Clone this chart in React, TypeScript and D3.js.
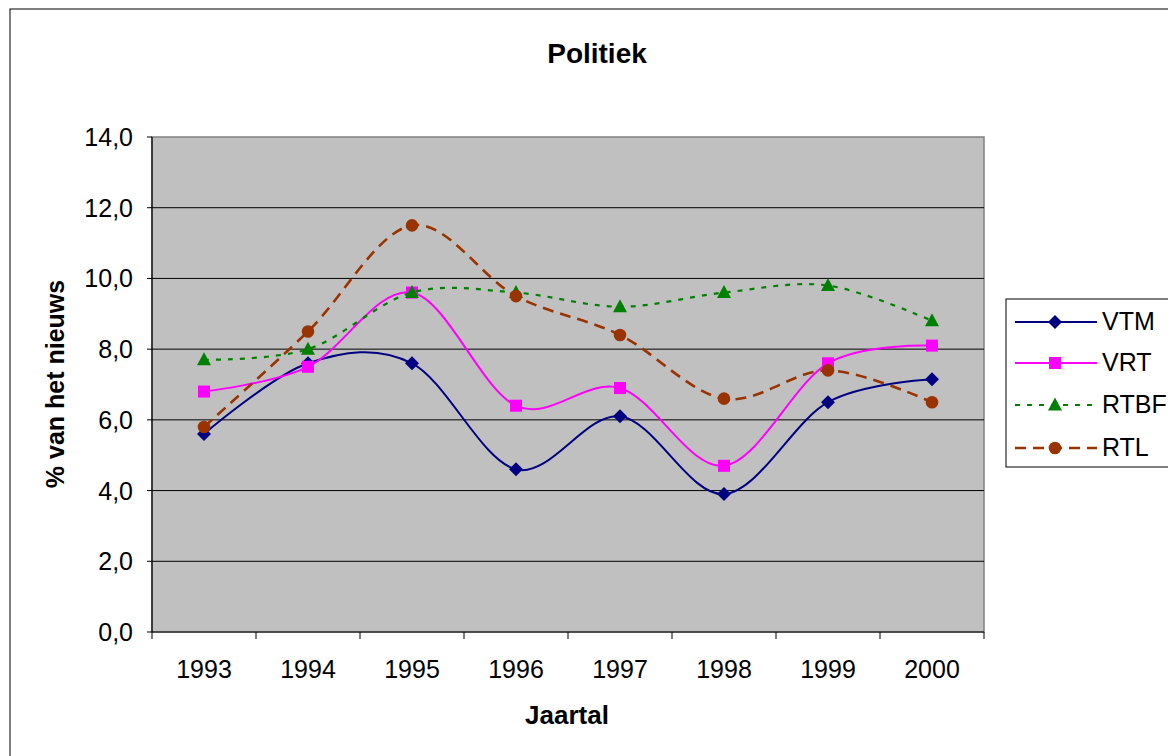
import * as d3 from "d3";

const years = ["1993", "1994", "1995", "1996", "1997", "1998", "1999", "2000"];
const vtm = [5.6, 7.6, 7.6, 4.6, 6.1, 3.9, 6.5, 7.15];
const vrt = [6.8, 7.5, 9.6, 6.4, 6.9, 4.7, 7.6, 8.1];
const rtbf = [7.7, 8.0, 9.6, 9.6, 9.2, 9.6, 9.8, 8.8];
const rtl = [5.8, 8.5, 11.5, 9.5, 8.4, 6.6, 7.4, 6.5];
const yTicks = [0, 2, 4, 6, 8, 10, 12, 14];

const series = [
  { name: "VTM", values: vtm, color: "#000080", dash: "", marker: "diamond", width: 2 },
  { name: "VRT", values: vrt, color: "#FF00FF", dash: "", marker: "square", width: 2 },
  { name: "RTBF", values: rtbf, color: "#008000", dash: "5 7", marker: "triangle", width: 2.2 },
  { name: "RTL", values: rtl, color: "#993300", dash: "11 7", marker: "circle", width: 2.6 },
];

const font = "Arial, 'Liberation Sans', sans-serif";

const Marker = ({ type, x, y, color }) => {
  if (type === "diamond")
    return <path d={`M${x},${y - 7}L${x + 7},${y}L${x},${y + 7}L${x - 7},${y}Z`} fill={color} />;
  if (type === "square")
    return <rect x={x - 6} y={y - 6} width={12} height={12} fill={color} />;
  if (type === "triangle")
    return <path d={`M${x},${y - 7.5}L${x + 7},${y + 5.5}L${x - 7},${y + 5.5}Z`} fill={color} />;
  return <circle cx={x} cy={y} r={6.3} fill={color} />;
};

export default function App() {
  const left = 152, right = 984, top = 137, bottom = 632;
  const x = d3.scaleBand().domain(years).range([left, right]);
  const y = d3.scaleLinear().domain([0, 14]).range([bottom, top]);
  const cx = (d) => x(d) + x.bandwidth() / 2;

  const line = d3
    .line()
    .x((d, i) => cx(years[i]))
    .y((d) => y(d))
    .curve(d3.curveCardinal.tension(0));

  const legendY = [322, 363, 405, 448];

  return (
    <svg
      width={1168}
      height={756}
      style={{ position: "absolute", left: 0, top: 0, background: "#fff" }}
      fontFamily={font}
    >
      <rect x={10} y={9} width={1180} height={770} fill="#fff" stroke="#000" strokeWidth={1} />
      <text x={597} y={63} textAnchor="middle" fontSize={28} fontWeight="bold">
        Politiek
      </text>

      <rect x={left} y={top} width={right - left} height={bottom - top} fill="#C0C0C0" stroke="#808080" strokeWidth={1.5} />
      {yTicks.slice(1, -1).map((t) => (
        <line key={t} x1={left} x2={right} y1={y(t)} y2={y(t)} stroke="#000" strokeWidth={1} />
      ))}
      <line x1={left} x2={left} y1={top} y2={bottom} stroke="#000" strokeWidth={1.2} />
      <line x1={left} x2={right} y1={bottom} y2={bottom} stroke="#000" strokeWidth={1.2} />

      {yTicks.map((t) => (
        <g key={t}>
          <line x1={left - 5} x2={left} y1={y(t)} y2={y(t)} stroke="#000" />
          <text x={133} y={y(t) + 9} textAnchor="end" fontSize={25}>
            {t.toFixed(1).replace(".", ",")}
          </text>
        </g>
      ))}

      {years.map((yr, i) => (
        <g key={yr}>
          <line x1={x(yr)} x2={x(yr)} y1={bottom} y2={bottom + 7} stroke="#000" />
          {i === years.length - 1 && (
            <line x1={right} x2={right} y1={bottom} y2={bottom + 7} stroke="#000" />
          )}
          <text x={cx(yr)} y={678} textAnchor="middle" fontSize={25}>
            {yr}
          </text>
        </g>
      ))}

      <text x={567} y={724} textAnchor="middle" fontSize={26} fontWeight="bold">
        Jaartal
      </text>
      <text
        transform="translate(64,384) rotate(-90)"
        textAnchor="middle"
        fontSize={25}
        fontWeight="bold"
      >
        % van het nieuws
      </text>

      {series.map((s) => (
        <g key={s.name}>
          <path
            d={line(s.values)}
            fill="none"
            stroke={s.color}
            strokeWidth={s.width}
            strokeDasharray={s.dash || undefined}
          />
          {s.values.map((v, i) => (
            <Marker key={i} type={s.marker} x={cx(years[i])} y={y(v)} color={s.color} />
          ))}
        </g>
      ))}

      <rect x={1006} y={299} width={170} height={168} fill="#fff" stroke="#000" strokeWidth={1} />
      {series.map((s, i) => (
        <g key={s.name}>
          <line
            x1={1015}
            x2={1097}
            y1={legendY[i]}
            y2={legendY[i]}
            stroke={s.color}
            strokeWidth={s.width}
            strokeDasharray={s.dash || undefined}
          />
          <Marker type={s.marker} x={1055} y={legendY[i]} color={s.color} />
          <text x={1102} y={legendY[i] + 8} fontSize={25}>
            {s.name}
          </text>
        </g>
      ))}
    </svg>
  );
}
